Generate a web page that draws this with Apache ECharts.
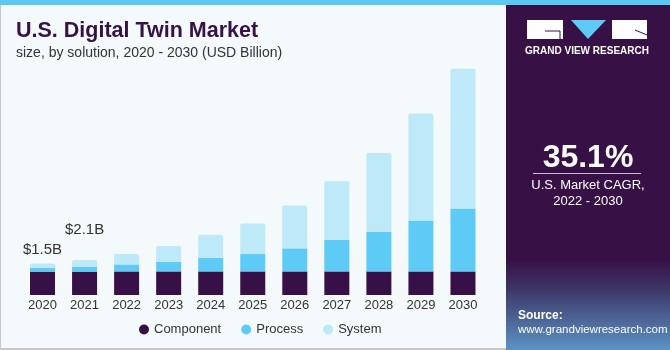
<!DOCTYPE html>
<html><head><meta charset="utf-8">
<script src="https://cdn.jsdelivr.net/npm/echarts@6/dist/echarts.min.js"></script>
<style>html,body{margin:0;padding:0;background:#f4f9fc}#c{width:670px;height:350px}</style>
</head><body><div id="c"></div>
<script>
const categories = ['2020','2021','2022','2023','2024','2025','2026','2027','2028','2029','2030'];
const component = [1.40,1.40,1.41,1.41,1.41,1.41,1.41,1.41,1.41,1.41,1.41];
const processV = [0.22,0.28,0.42,0.58,0.82,1.04,1.38,1.88,2.36,3.04,3.77];
const systemV = [0.26,0.42,0.62,0.94,1.38,1.83,2.57,3.51,4.73,6.41,8.35];
const totalLabels = ['$1.5B','$2.1B'];

const chart = echarts.init(document.getElementById('c'), null, {renderer:'canvas'});
const FONT = '"Liberation Sans", Arial, sans-serif';
const sysData = systemV.map((v,i)=>{
  if (i < totalLabels.length) {
    return {value:v, label:{show:true, position:'top', formatter: totalLabels[i], distance: i===0?6:23, color:'#333', fontSize:15, fontFamily:FONT}};
  }
  return v;
});
chart.setOption({
  backgroundColor:'#f4f9fc',
  animation:false,
  title:{
    text:'U.S. Digital Twin Market',
    subtext:'size, by solution, 2020 - 2030 (USD Billion)',
    left:11, top:15, itemGap:4,
    textStyle:{color:'#361248', fontSize:21.5, fontWeight:'bold', fontFamily:FONT},
    subtextStyle:{color:'#333', fontSize:14, fontFamily:FONT}
  },
  grid:{left:21.5, right:186, top:61, bottom:55},
  xAxis:{type:'category', data:categories, axisLine:{show:false}, axisTick:{show:false},
    axisLabel:{color:'#333', fontSize:13, margin:4, fontFamily:FONT}},
  yAxis:{type:'value', min:0, max:14, show:false, splitLine:{show:false}},
  legend:{left:134, top:318, itemGap:20, icon:'circle', itemWidth:10, itemHeight:10,
    textStyle:{color:'#333', fontSize:13, fontFamily:FONT},
    data:['Component','Process','System']},
  series:[
    {name:'Component', type:'bar', stack:'t', barWidth:25, data:component, itemStyle:{color:'#371047'}},
    {name:'Process', type:'bar', stack:'t', barWidth:25, data:processV, itemStyle:{color:'#5ecbf6'}},
    {name:'System', type:'bar', stack:'t', barWidth:25, data:sysData, itemStyle:{color:'#bde9f9', borderRadius:[2,2,0,0]}}
  ],
  graphic:[
    {type:'rect', shape:{x:0,y:0,width:670,height:5}, style:{fill:'#5ac8f0'}},
    {type:'rect', shape:{x:0,y:5,width:1,height:345}, style:{fill:'#c8c8c8'}},
    {type:'rect', shape:{x:0,y:348,width:506,height:2}, style:{fill:'#c8c8c8'}},
    {type:'rect', shape:{x:506,y:5,width:164,height:345}, style:{fill:{type:'linear',x:0,y:0,x2:0,y2:1,colorStops:[
      {offset:0,color:'#371146'},{offset:0.74,color:'#371146'},{offset:0.82,color:'#3d3466'},{offset:1,color:'#5b93c4'}]}}},
    {type:'polygon', shape:{points:[[527,20],[563,20],[563,39],[527,39]]}, style:{fill:'#ffffff'}},
    {type:'polyline', shape:{points:[[545,31],[560,31],[560,39]]}, style:{stroke:'#371146', lineWidth:1, fill:null}},
    {type:'polygon', shape:{points:[[571,20],[606,20],[588,39]]}, style:{fill:'#5ecbf6'}},
    {type:'polygon', shape:{points:[[612,20],[647,20],[647,39],[612,39]]}, style:{fill:'#ffffff'}},
    {type:'polyline', shape:{points:[[635,30],[647,35]]}, style:{stroke:'#371146', lineWidth:1, fill:null}},
    {type:'text', style:{text:'GRAND VIEW RESEARCH', x:587, y:51, align:'center', verticalAlign:'middle', fill:'#fff', font:'bold 10px '+FONT}},
    {type:'text', style:{text:'35.1%', x:588, y:158, align:'center', verticalAlign:'middle', fill:'#fff', font:'bold 32px '+FONT}},
    {type:'rect', shape:{x:533,y:173,width:108,height:1}, style:{fill:'#c8c0d0'}},
    {type:'text', style:{text:'U.S. Market CAGR,', x:588, y:185, align:'center', verticalAlign:'middle', fill:'#fff', font:'13px '+FONT}},
    {type:'text', style:{text:'2022 - 2030', x:588, y:201, align:'center', verticalAlign:'middle', fill:'#fff', font:'13px '+FONT}},
    {type:'text', style:{text:'Source:', x:518, y:316, align:'left', verticalAlign:'middle', fill:'#fff', font:'bold 12px '+FONT}},
    {type:'text', style:{text:'www.grandviewresearch.com', x:518, y:330, align:'left', verticalAlign:'middle', fill:'#fff', font:'11.5px '+FONT}}
  ]
});
</script></body></html>
